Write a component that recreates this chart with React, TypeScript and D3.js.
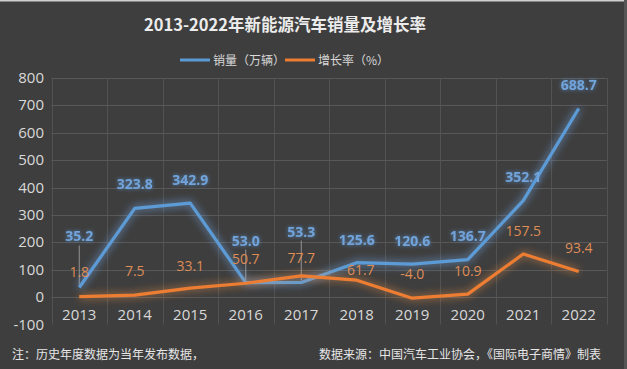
import React, { useEffect, useRef } from 'react';
import * as d3 from 'd3';

// 2013-2022 NEV sales (10k units) and growth rate (%)
const years = ['2013', '2014', '2015', '2016', '2017', '2018', '2019', '2020', '2021', '2022'];
const sales = [35.2, 323.8, 342.9, 53.0, 53.3, 125.6, 120.6, 136.7, 352.1, 688.7];
const growth = [1.8, 7.5, 33.1, 50.7, 77.7, 61.7, -4.0, 10.9, 157.5, 93.4];
const yTicks = [-100, 0, 100, 200, 300, 400, 500, 600, 700, 800];

// hand-placed label offsets (px above the point), as in the source sheet
const salesLabelDy = [-51, -24, -23, -42, -51, -23, -23, -24, -24, -23];
const growthLabelDy = [-25, -24, -22, -24, -18, -10, -24, -23, -23, -24];
const leaderIdx = [0, 3, 4];

const W = 627;
const H = 369;
const PLOT_L = 51.5;
const PLOT_R = 606.5;
const PLOT_T = 78;
const PLOT_B = 324.5;

const BG = '#3e3e3e';
const GRID = '#585858';
const TEXT = '#d9d9d9';
const BLUE = '#5b9bd5';
const ORANGE = '#ed7d31';
const CJK = '"Noto Sans CJK SC", "Noto Sans", sans-serif';
const NUM = '"Open Sans", "Noto Sans", sans-serif';

export default function App() {
  const svgRef = useRef<SVGSVGElement>(null);

  useEffect(() => {
    const svg = d3.select(svgRef.current).attr('width', W).attr('height', H);
    svg.selectAll('*').remove();

    const defs = svg.append('defs');
    const glow = (id: string, color: string, sd: number, op: number) => {
      const f = defs.append('filter').attr('id', id).attr('x', '-20%').attr('y', '-30%').attr('width', '140%').attr('height', '160%');
      f.append('feGaussianBlur').attr('in', 'SourceAlpha').attr('stdDeviation', sd).attr('result', 'b');
      f.append('feFlood').attr('flood-color', color).attr('flood-opacity', op);
      f.append('feComposite').attr('in2', 'b').attr('operator', 'in').attr('result', 'g');
      const m = f.append('feMerge');
      m.append('feMergeNode').attr('in', 'g');
      m.append('feMergeNode').attr('in', 'g');
      m.append('feMergeNode').attr('in', 'SourceGraphic');
    };
    glow('glowBlue', '#7fb8ff', 4, 0.45);
    glow('glowOrange', '#ff9a50', 4, 0.4);
    glow('glowBlueText', '#6aa8f0', 2, 0.35);

    svg.append('rect').attr('width', W).attr('height', H).attr('fill', BG);
    svg.append('rect').attr('width', W).attr('height', 1.5).attr('fill', '#cfcfcf');
    svg.append('rect').attr('x', W - 3).attr('width', 3).attr('height', H).attr('fill', '#555');

    const x = d3.scaleBand<string>().domain(years).range([PLOT_L, PLOT_R]);
    const cx = (d: string) => (x(d) ?? 0) + x.bandwidth() / 2;
    const y = d3.scaleLinear().domain([-100, 800]).range([PLOT_B, PLOT_T]);

    // grid
    const grid = svg.append('g').attr('stroke', GRID).attr('stroke-width', 1);
    grid
      .selectAll('line.h')
      .data(yTicks.filter((t) => t >= 0))
      .enter()
      .append('line')
      .attr('x1', PLOT_L)
      .attr('x2', PLOT_R)
      .attr('y1', (d) => Math.round(y(d)) + 0.5)
      .attr('y2', (d) => Math.round(y(d)) + 0.5);
    const bounds = years.map((d) => x(d) ?? 0).concat([PLOT_R]);
    grid
      .selectAll('line.v')
      .data(bounds)
      .enter()
      .append('line')
      .attr('x1', (d) => Math.round(d) + 0.5)
      .attr('x2', (d) => Math.round(d) + 0.5)
      .attr('y1', PLOT_T)
      .attr('y2', PLOT_B)
      .attr('stroke-opacity', 0.8);

    // y axis labels
    svg
      .append('g')
      .selectAll('text')
      .data(yTicks)
      .enter()
      .append('text')
      .attr('x', 44)
      .attr('y', (d) => y(d) + 5)
      .attr('text-anchor', 'end')
      .attr('font-family', NUM)
      .attr('font-size', 15)
      .attr('fill', TEXT)
      .text((d) => d);

    // x axis labels
    svg
      .append('g')
      .selectAll('text')
      .data(years)
      .enter()
      .append('text')
      .attr('x', cx)
      .attr('y', 320)
      .attr('text-anchor', 'middle')
      .attr('font-family', NUM)
      .attr('font-size', 15)
      .attr('fill', TEXT)
      .text((d) => d);

    // leader lines
    svg
      .append('g')
      .selectAll('line')
      .data(leaderIdx)
      .enter()
      .append('line')
      .attr('x1', (i) => cx(years[i]))
      .attr('x2', (i) => cx(years[i]))
      .attr('y1', (i) => y(sales[i]) + salesLabelDy[i] + 9)
      .attr('y2', (i) => y(sales[i]) - 2)
      .attr('stroke', '#a8a8a8')
      .attr('stroke-width', 0.8);

    const line = d3
      .line<number>()
      .x((_, i) => cx(years[i]))
      .y((d) => y(d));

    svg
      .append('path')
      .datum(sales)
      .attr('d', line)
      .attr('fill', 'none')
      .attr('stroke', BLUE)
      .attr('stroke-width', 3.2)
      .attr('stroke-linejoin', 'round')
      .attr('filter', 'url(#glowBlue)');
    svg
      .append('path')
      .datum(growth)
      .attr('d', line)
      .attr('fill', 'none')
      .attr('stroke', ORANGE)
      .attr('stroke-width', 3.2)
      .attr('stroke-linejoin', 'round')
      .attr('filter', 'url(#glowOrange)');

    // growth labels
    svg
      .append('g')
      .selectAll('text')
      .data(growth)
      .enter()
      .append('text')
      .attr('x', (_, i) => cx(years[i]) + (i === 5 ? 4 : 0))
      .attr('y', (d, i) => y(d) + growthLabelDy[i] + 5)
      .attr('text-anchor', 'middle')
      .attr('font-family', NUM)
      .attr('font-size', 14)
      .attr('fill', '#df8c56')
      .text((d) => d.toFixed(1));

    // sales labels
    svg
      .append('g')
      .selectAll('text')
      .data(sales)
      .enter()
      .append('text')
      .attr('x', (_, i) => cx(years[i]))
      .attr('y', (d, i) => y(d) + salesLabelDy[i] + 5)
      .attr('text-anchor', 'middle')
      .attr('font-family', NUM)
      .attr('font-size', 14)
      .attr('font-weight', 700)
      .attr('fill', '#72a4dc')
      .attr('filter', 'url(#glowBlueText)')
      .text((d) => d.toFixed(1));

    // title
    svg
      .append('text')
      .attr('x', 285)
      .attr('y', 31)
      .attr('text-anchor', 'middle')
      .attr('font-family', CJK)
      .attr('font-size', 16.5)
      .attr('font-weight', 700)
      .attr('fill', '#ececec')
      .text('2013-2022年新能源汽车销量及增长率');

    // legend
    const legend = [
      { label: '销量（万辆）', color: BLUE, x: 180 },
      { label: '增长率（%）', color: ORANGE, x: 285 },
    ];
    const lg = svg.append('g').selectAll('g').data(legend).enter().append('g');
    lg.append('line')
      .attr('x1', (d) => d.x)
      .attr('x2', (d) => d.x + 30)
      .attr('y1', 60)
      .attr('y2', 60)
      .attr('stroke', (d) => d.color)
      .attr('stroke-width', 3);
    lg.append('text')
      .attr('x', (d) => d.x + 33)
      .attr('y', 64.5)
      .attr('font-family', CJK)
      .attr('font-size', 12)
      .attr('fill', TEXT)
      .text((d) => d.label);

    // footer
    svg
      .append('text')
      .attr('x', 12)
      .attr('y', 359)
      .attr('font-family', CJK)
      .attr('font-size', 12)
      .attr('fill', '#e6e6e6')
      .text('注：历史年度数据为当年发布数据，');
    svg
      .append('text')
      .attr('x', 601)
      .attr('y', 359)
      .attr('text-anchor', 'end')
      .attr('font-family', CJK)
      .attr('font-size', 12)
      .attr('fill', '#e6e6e6')
      .text('数据来源：中国汽车工业协会，《国际电子商情》制表');
  }, []);

  return (
    <div style={{ position: 'absolute', left: 0, top: 0 }}>
      <svg ref={svgRef} style={{ display: 'block' }} />
    </div>
  );
}
